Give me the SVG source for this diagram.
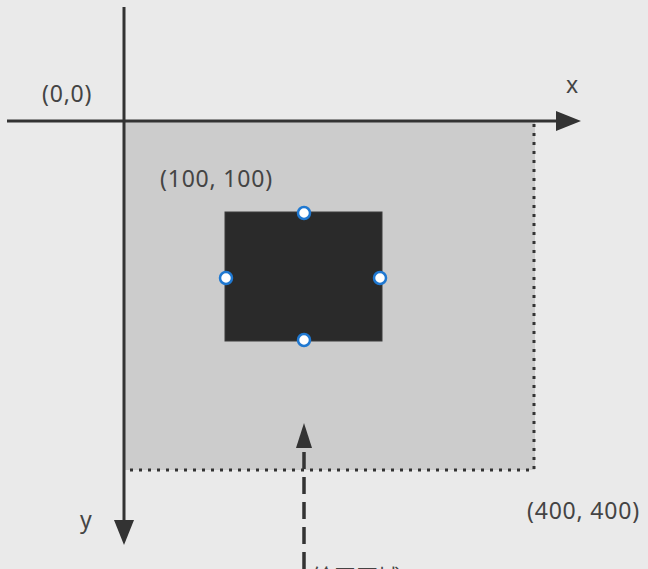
<svg xmlns="http://www.w3.org/2000/svg" width="648" height="569" viewBox="0 0 648 569">
<style>
.lbl{font-family:"Noto Sans","Liberation Sans",sans-serif;font-size:23px;letter-spacing:0.8px;fill:#444;}
.cjk{font-family:"Noto Sans CJK SC",sans-serif;font-size:22px;fill:#444;}
.axis{stroke:#333;stroke-width:3;fill:none;}
.dot{stroke:#333;stroke-width:3;stroke-dasharray:3 6;fill:none;}
.handle{fill:#fff;stroke:#1f78d1;stroke-width:2.5;}
</style>
<rect width="648" height="569" fill="#eaeaea"/>
<g id="canvas-area">
<rect x="125" y="122" width="410" height="348" fill="#cccccc"/>
<path class="dot" d="M534 124 V470 H128"/>
</g>
<g id="connectors">
<line class="axis" x1="7" y1="121" x2="558" y2="121"/>
<polygon points="556,111 581,121 556,131" fill="#333"/>
<line class="axis" x1="124" y1="7" x2="124" y2="522"/>
<polygon points="114,520 124,545 134,520" fill="#333"/>
<line x1="304" y1="569" x2="304" y2="447" stroke="#333" stroke-width="3.5" stroke-dasharray="17 8"/>
<polygon points="296,448 304,423 312,448" fill="#333"/>
</g>
<g id="shape">
<rect x="225" y="212" width="157" height="129" fill="#2a2a2a" stroke="#3a3a3a" stroke-width="1"/>
<circle class="handle" cx="304" cy="213" r="6"/>
<circle class="handle" cx="226" cy="278" r="6"/>
<circle class="handle" cx="380" cy="278" r="6"/>
<circle class="handle" cx="304" cy="340" r="6"/>
</g>
<g id="labels">
<text class="lbl" x="42" y="102">(0,0)</text>
<text class="lbl" x="160" y="187">(100, 100)</text>
<text class="lbl" x="566" y="93">x</text>
<text class="lbl" x="80" y="528">y</text>
<text class="lbl" x="527" y="519">(400, 400)</text>
<text class="cjk" x="312" y="585">绘画区域</text>
</g>
</svg>
